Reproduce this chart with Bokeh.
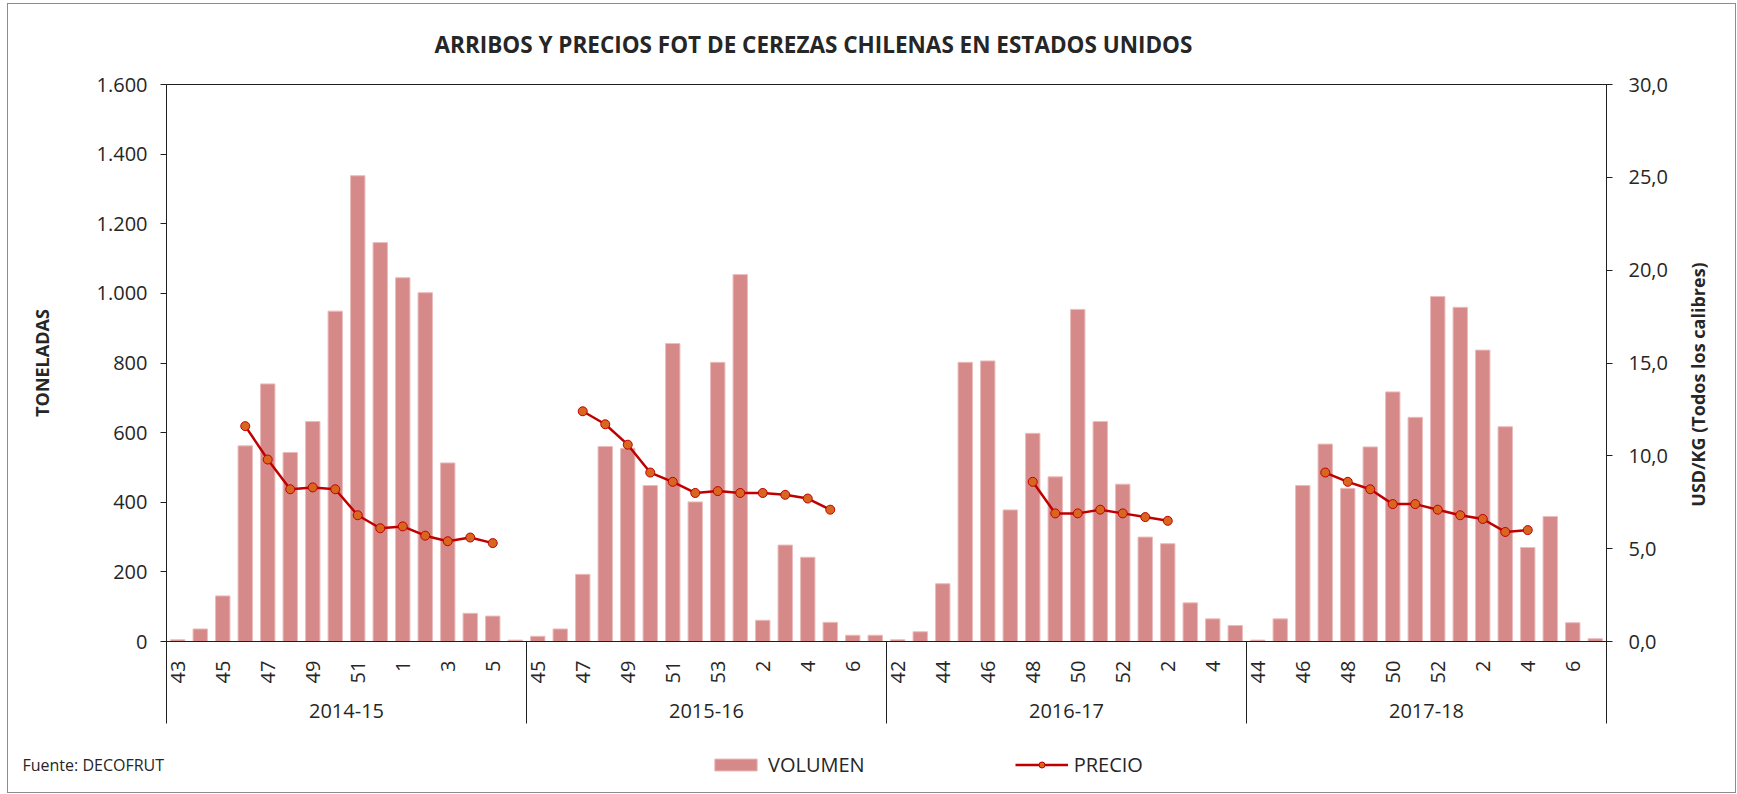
import math
import numpy as np
from bokeh.plotting import figure
from bokeh.layouts import column, row
from bokeh.models import (ColumnDataSource, Range1d, LinearAxis,
                          FixedTicker, Title, Label, Legend, LegendItem)
from bokeh.embed import file_html
from bokeh.resources import INLINE

# ---------------- data ----------------
seasons = ["2014-15", "2015-16", "2016-17", "2017-18"]

weeks_1415 = [43, 44, 45, 46, 47, 48, 49, 50, 51, 52, 1, 2, 3, 4, 5, 6]
weeks_1516 = [45, 46, 47, 48, 49, 50, 51, 52, 53, 1, 2, 3, 4, 5, 6, 7]
weeks_1617 = [42, 43, 44, 45, 46, 47, 48, 49, 50, 51, 52, 1, 2, 3, 4, 5]
weeks_1718 = [44, 45, 46, 47, 48, 49, 50, 51, 52, 1, 2, 3, 4, 5, 6, 7]

vol_1415 = [5, 36, 131, 562, 740, 543, 632, 949, 1338, 1146, 1045, 1002, 513, 81, 73, 4]
vol_1516 = [15, 36, 193, 560, 555, 448, 856, 401, 802, 1054, 61, 277, 242, 55, 18, 18]
vol_1617 = [5, 28, 166, 802, 806, 378, 598, 473, 954, 632, 452, 300, 281, 111, 65, 46]
vol_1718 = [4, 65, 448, 567, 440, 559, 717, 644, 991, 960, 837, 617, 270, 359, 54, 8]

N = None
price_1415 = [N, N, N, 11.6, 9.8, 8.2, 8.3, 8.2, 6.8, 6.1, 6.2, 5.7, 5.4, 5.6, 5.3, N]
price_1516 = [N, N, 12.4, 11.7, 10.6, 9.1, 8.6, 8.0, 8.1, 8.0, 8.0, 7.9, 7.7, 7.1, N, N]
price_1617 = [N, N, N, N, N, N, 8.6, 6.9, 6.9, 7.1, 6.9, 6.7, 6.5, N, N, N]
price_1718 = [N, N, N, 9.1, 8.6, 8.2, 7.4, 7.4, 7.1, 6.8, 6.6, 5.9, 6.0, N, N, N]

vol_ticks = [0, 200, 400, 600, 800, 1000, 1200, 1400, 1600]
vol_tick_labels = ["0", "200", "400", "600", "800", "1.000", "1.200", "1.400", "1.600"]
price_ticks = [0, 5, 10, 15, 20, 25, 30]
price_tick_labels = ["0,0", "5,0", "10,0", "15,0", "20,0", "25,0", "30,0"]

# ---------------- build ----------------
weeks = weeks_1415 + weeks_1516 + weeks_1617 + weeks_1718
vols = vol_1415 + vol_1516 + vol_1617 + vol_1718
prices = price_1415 + price_1516 + price_1617 + price_1718
n_per = len(weeks_1415)
xs = list(range(1, len(weeks) + 1))
price_arr = np.array([np.nan if v is None else v for v in prices], dtype=float)

src = ColumnDataSource(dict(x=xs, vol=vols, price=price_arr))

FONT = "Open Sans"
TXT = "#262626"
AX = "#1f1f1f"
BAR_FILL = "#D58A89"
BAR_LINE = "#EBBDBC"
LINE_COL = "#C00000"
MARK_FILL = "#D9661F"

W_MAIN, W_RIGHT, H_MAIN, H_BOTTOM = 1664, 63, 724, 64

p = figure(width=W_MAIN, height=H_MAIN,
           x_range=Range1d(0.5, len(xs) + 0.5), y_range=Range1d(0, 1600),
           output_backend="svg", toolbar_location=None,
           min_border_left=158, min_border_right=66,
           min_border_top=80, min_border_bottom=87)
p.grid.visible = False
p.outline_line_color = AX
p.outline_line_width = 1
p.background_fill_color = "white"
p.border_fill_color = "white"

# title
p.add_layout(Title(text="ARRIBOS Y PRECIOS FOT DE CEREZAS CHILENAS EN ESTADOS UNIDOS",
                   align="left", offset=268, standoff=47, vertical_align="middle",
                   text_font=FONT, text_font_size="22.5px", text_font_style="bold",
                   text_color=TXT), "above")

# left axis
yl = p.yaxis[0]
yl.ticker = FixedTicker(ticks=vol_ticks)
yl.major_label_overrides = {t: l for t, l in zip(vol_ticks, vol_tick_labels)}
yl.major_tick_out = 6
yl.major_tick_in = 0
yl.minor_tick_line_color = None
yl.axis_line_color = AX
yl.major_tick_line_color = AX
yl.major_label_standoff = 13
yl.major_label_text_font = FONT
yl.major_label_text_font_size = "20px"
yl.major_label_text_color = TXT
yl.axis_label = "TONELADAS"
yl.axis_label_standoff = 40
yl.axis_label_text_font = FONT
yl.axis_label_text_font_size = "18px"
yl.axis_label_text_font_style = "bold"
yl.axis_label_text_color = TXT

# right axis
p.extra_y_ranges = {"precio": Range1d(0, 30)}
yr = LinearAxis(y_range_name="precio", ticker=FixedTicker(ticks=price_ticks),
                major_label_overrides={t: l for t, l in zip(price_ticks, price_tick_labels)})
yr.major_tick_out = 6
yr.major_tick_in = 0
yr.minor_tick_line_color = None
yr.axis_line_color = AX
yr.major_tick_line_color = AX
yr.major_label_standoff = 16
yr.major_label_text_font = FONT
yr.major_label_text_font_size = "20px"
yr.major_label_text_color = TXT
p.add_layout(yr, "right")

# week axis (bottom) with season separators as long minor ticks
label_pos = xs[0::2]
boundaries = [0.5 + i * n_per for i in range(len(seasons) + 1)]
xw = p.xaxis[0]
xw.ticker = FixedTicker(ticks=label_pos, minor_ticks=boundaries)
xw.major_label_overrides = {x: str(weeks[x - 1]) for x in label_pos}
xw.major_label_orientation = math.pi / 2
xw.major_tick_out = 0
xw.major_tick_in = 0
xw.major_tick_line_color = None
xw.minor_tick_out = 82
xw.minor_tick_in = 0
xw.minor_tick_line_color = AX
xw.axis_line_color = AX
xw.major_label_standoff = -63
xw.major_label_text_font = FONT
xw.major_label_text_font_size = "20px"
xw.major_label_text_color = TXT

# season axis (labels centred under each season block)
season_centers = [0.5 + n_per * (i + 0.5) for i in range(len(seasons))]
xs_ax = LinearAxis(ticker=FixedTicker(ticks=season_centers),
                   major_label_overrides={c: s for c, s in zip(season_centers, seasons)})
xs_ax.axis_line_color = None
xs_ax.major_tick_line_color = None
xs_ax.minor_tick_line_color = None
xs_ax.major_tick_out = 0
xs_ax.major_tick_in = 0
xs_ax.major_label_standoff = 17
xs_ax.major_label_text_font = FONT
xs_ax.major_label_text_font_size = "20px"
xs_ax.major_label_text_color = TXT
p.add_layout(xs_ax, "below")

# glyphs
p.vbar(x="x", top="vol", width=0.64, source=src,
       fill_color=BAR_FILL, line_color=BAR_LINE, line_width=1)
p.line(x="x", y="price", source=src, y_range_name="precio",
       line_color=LINE_COL, line_width=2.5)
p.scatter(x="x", y="price", source=src, y_range_name="precio",
          size=9, fill_color=MARK_FILL, line_color=LINE_COL, line_width=1)

# right strip: secondary axis title (its frame is aligned with the main frame)
pr = figure(width=W_RIGHT, height=H_MAIN, x_range=Range1d(0, 1), y_range=Range1d(0, 1),
            output_backend="svg", toolbar_location=None, min_border=0,
            x_axis_location=None, y_axis_location=None)
pr.grid.visible = False
pr.outline_line_color = None
pr.add_layout(Label(x=25, y=257, x_units="screen", y_units="screen", angle=math.pi / 2,
                    text="USD/KG (Todos los calibres)", text_align="center", text_baseline="middle",
                    text_font=FONT, text_font_size="18px", text_font_style="bold",
                    text_color=TXT))

# bottom strip: legend (proxies share the data source but sit outside the strip's view) + source
pb = figure(width=W_MAIN + W_RIGHT, height=H_BOTTOM, x_range=Range1d(-2, -1), y_range=Range1d(0, 1),
            output_backend="svg", toolbar_location=None, min_border=0,
            x_axis_location=None, y_axis_location=None)
pb.grid.visible = False
pb.outline_line_color = None
lg_bar = pb.vbar(x="x", top="vol", width=0.64, source=src,
                 fill_color=BAR_FILL, line_color=BAR_LINE, line_width=1)
lg_line = pb.line(x="x", y="price", source=src, line_color=LINE_COL, line_width=2.5)
lg_mark = pb.scatter(x="x", y="price", source=src, size=9,
                     fill_color=MARK_FILL, line_color=LINE_COL, line_width=1)
leg = Legend(items=[LegendItem(label="VOLUMEN", renderers=[lg_bar]),
                    LegendItem(label="PRECIO", renderers=[lg_line, lg_mark])],
             location=(701, 14), orientation="horizontal",
             spacing=150, glyph_width=53, glyph_height=15, label_standoff=6,
             padding=0, margin=0, border_line_color=None, background_fill_alpha=0,
             label_text_font=FONT, label_text_font_size="20px", label_text_color=TXT)
pb.add_layout(leg)
pb.add_layout(Label(x=14, y=28, x_units="screen", y_units="screen",
                    text="Fuente: DECOFRUT", text_align="left", text_baseline="middle",
                    text_font=FONT, text_font_size="16px", text_color=TXT))

layout = column(row(p, pr), pb)
layout.styles = {"border": "1px solid #8c8c8c", "margin-left": "7px", "margin-top": "3px"}

open("out.html", "w").write(file_html(layout, INLINE))
